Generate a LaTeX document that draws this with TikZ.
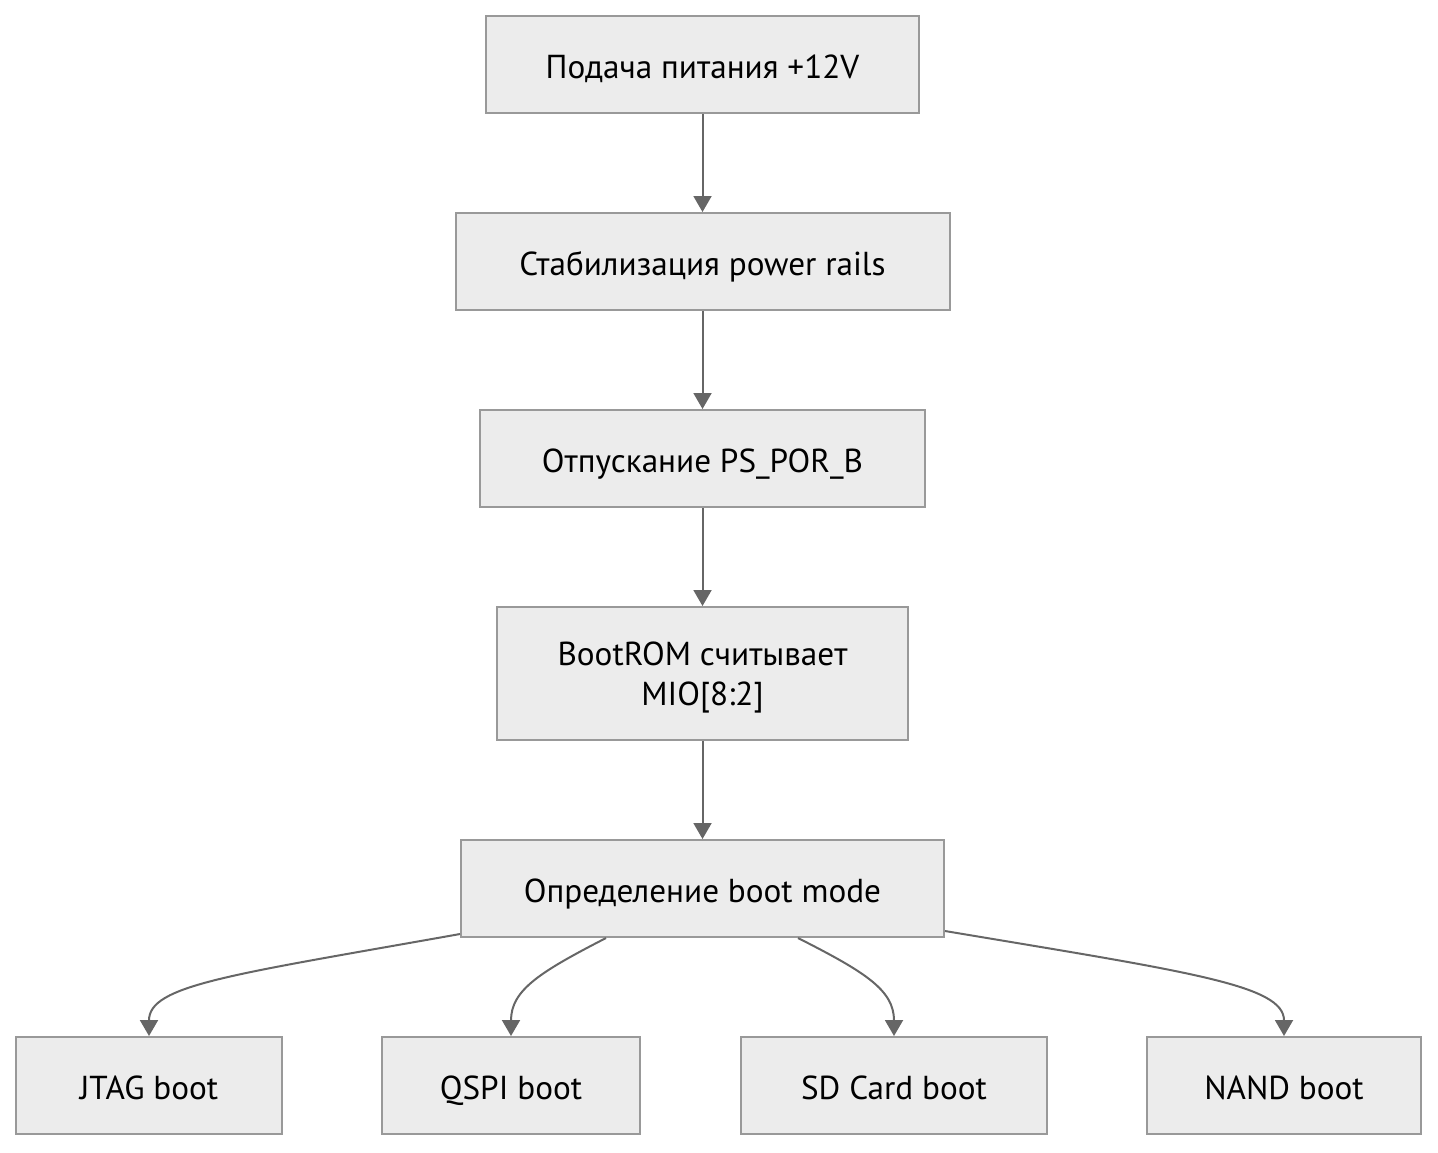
\documentclass[tikz,border=0pt]{standalone}
\usepackage{fontspec}
\setmainfont{PT Sans}
\usetikzlibrary{arrows.meta,calc}

\begin{document}
\begin{tikzpicture}[x=0.5pt, y=-0.5pt,
    stepbox/.style={draw=black!40, fill=black!7.5, line width=1pt,
        minimum height=48.5pt, inner sep=0pt, align=center,
        text height=15pt, text depth=1.3pt,
        font=\fontsize{16.6}{20}\selectfont},
    flow/.style={draw=black!60, line width=1pt,
        -{Triangle[width=9pt, length=8pt]}}]
        % Frame
        \useasboundingbox (0,0) rectangle (1438,1152);
        % Main chain
        \node [stepbox, minimum width=216.5pt] (power) at (702.5,64.5) {Подача питания +12V};
        \node [stepbox, minimum width=247pt] (rails) at (702.5,261.5) {Стабилизация power rails};
        \node [stepbox, minimum width=222.5pt] (por) at (702.5,458.5) {Отпускание PS\_POR\_B};
        \node [stepbox, minimum width=205.5pt, minimum height=66.5pt, text height=33.5pt] (bootrom) at (702.5,673.5) {BootROM считывает\\MIO[8:2]};
        \node [stepbox, minimum width=241.5pt] (mode) at (702.5,888.5) {Определение boot mode};
        % Boot targets
        \node [stepbox, minimum width=133pt] (jtag) at (149,1085.5) {JTAG boot};
        \node [stepbox, minimum width=129pt] (qspi) at (511,1085.5) {QSPI boot};
        \node [stepbox, minimum width=153pt] (sd) at (894,1085.5) {SD Card boot};
        \node [stepbox, minimum width=137pt] (nand) at (1284,1085.5) {NAND boot};
        % Straight arrows
        \draw [flow] (power) -- (rails);
        \draw [flow] (rails) -- (por);
        \draw [flow] (por) -- (bootrom);
        \draw [flow] (bootrom) -- (mode);
        % Curved arrows
        \draw [flow] ($(mode.south west)+(0,-4)$) .. controls (230,975) and (149,985) .. (jtag.north);
        \draw [flow] ($(mode.south west)+(146,0)$) .. controls (540,972) and (511,990) .. (qspi.north);
        \draw [flow] ($(mode.south east)+(-147,0)$) .. controls (865,972) and (894,990) .. (sd.north);
        \draw [flow] ($(mode.south east)+(0,-7)$) .. controls (1190,972) and (1284,985) .. (nand.north);
\end{tikzpicture}
\end{document}
